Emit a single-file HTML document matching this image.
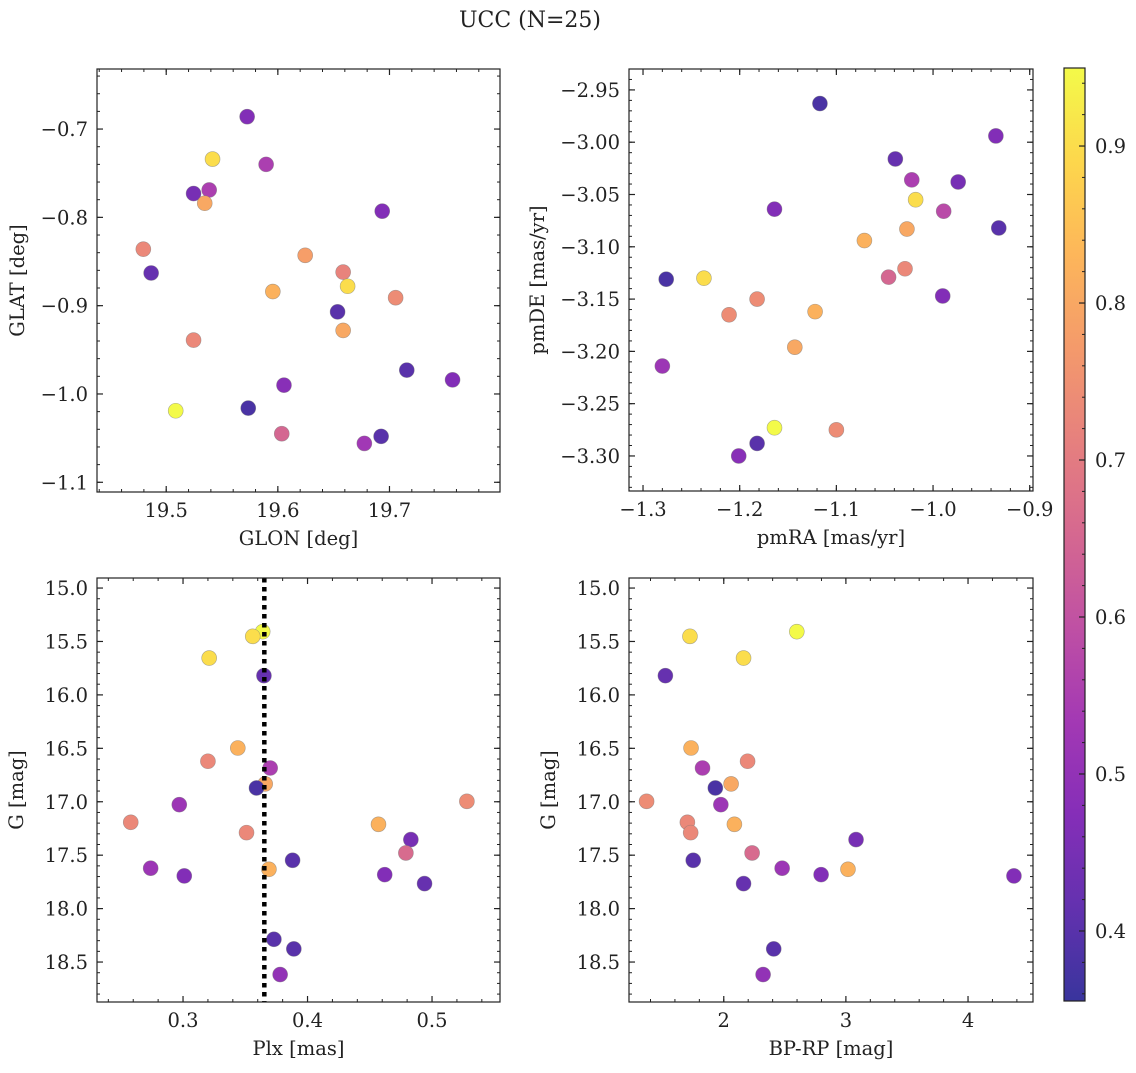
<!DOCTYPE html>
<html><head><meta charset="utf-8"><style>
html,body{margin:0;padding:0;background:#fff;}
svg text{font-family:"DejaVu Serif","Liberation Serif",serif;fill:#222;}
</style></head><body>
<svg id="fig" width="1136" height="1068" viewBox="0 0 1136 1068" xmlns="http://www.w3.org/2000/svg">
<text x="530" y="27" font-size="22" text-anchor="middle">UCC (N=25)</text>
</svg>
<script>
// ---- Panel 1: GLON vs GLAT ----
const p1X = [19.5725,19.5415,19.5895,19.5245,19.5385,19.5345,19.6935,19.4795,19.4865,19.6245,19.6585,19.6625,19.5955,19.7055,19.6535,19.6585,19.5245,19.7155,19.6055,19.7565,19.5085,19.5735,19.6035,19.6775,19.6925];
const p1Y = [-0.686,-0.734,-0.740,-0.773,-0.769,-0.784,-0.793,-0.836,-0.863,-0.843,-0.862,-0.878,-0.884,-0.891,-0.907,-0.928,-0.939,-0.973,-0.990,-0.984,-1.019,-1.016,-1.045,-1.056,-1.048];
const p1C = [0.47,0.90,0.55,0.45,0.55,0.80,0.47,0.73,0.42,0.78,0.72,0.90,0.82,0.74,0.40,0.80,0.73,0.40,0.48,0.47,0.95,0.38,0.65,0.53,0.40];
const p1XTicks = [19.5,19.6,19.7];
const p1YTicks = [-0.7,-0.8,-0.9,-1.0,-1.1];
// ---- Panel 2: pmRA vs pmDE ----
const p2X = [-1.117,-0.935,-1.039,-1.022,-0.974,-1.164,-1.018,-0.989,-0.932,-1.071,-1.027,-1.276,-1.237,-1.046,-1.029,-1.182,-0.990,-1.211,-1.122,-1.143,-1.280,-1.164,-1.100,-1.182,-1.201];
const p2Y = [-2.963,-2.994,-3.016,-3.036,-3.038,-3.064,-3.055,-3.066,-3.082,-3.094,-3.083,-3.131,-3.130,-3.129,-3.121,-3.150,-3.147,-3.165,-3.162,-3.196,-3.214,-3.273,-3.275,-3.288,-3.300];
const p2C = [0.38,0.47,0.42,0.55,0.45,0.47,0.90,0.58,0.40,0.82,0.80,0.38,0.90,0.65,0.73,0.74,0.47,0.74,0.82,0.80,0.52,0.95,0.74,0.40,0.48];
const p2XTicks = [-1.3,-1.2,-1.1,-1.0,-0.9];
const p2YTicks = [-2.95,-3.00,-3.05,-3.10,-3.15,-3.20,-3.25,-3.30];
// ---- Panel 3: Plx vs G ----
const p3X = [0.364,0.356,0.321,0.365,0.344,0.320,0.370,0.366,0.359,0.528,0.297,0.258,0.351,0.457,0.483,0.479,0.388,0.274,0.301,0.369,0.462,0.494,0.373,0.389,0.378];
const p3Y = [15.408,15.452,15.655,15.820,16.497,16.621,16.684,16.833,16.871,16.996,17.027,17.192,17.289,17.211,17.354,17.479,17.548,17.622,17.694,17.632,17.682,17.766,18.287,18.377,18.617];
const p3C = [0.95,0.90,0.90,0.42,0.82,0.73,0.55,0.80,0.38,0.74,0.52,0.73,0.73,0.82,0.45,0.66,0.40,0.52,0.47,0.82,0.47,0.42,0.40,0.40,0.50];
const p3Plx = [0.3653];
const p3XTicks = [0.3,0.4,0.5];
const gTicks = [15.0,15.5,16.0,16.5,17.0,17.5,18.0,18.5];
// ---- Panel 4: BP-RP vs G ----
const p4X = [2.598,1.723,2.162,1.522,1.732,1.826,2.195,1.931,2.060,1.368,1.976,1.702,1.729,2.087,3.083,2.232,1.750,2.478,2.797,3.017,4.376,2.162,2.409,2.322];
const p4Y = [15.408,15.452,15.655,15.820,16.497,16.684,16.621,16.871,16.833,16.996,17.027,17.192,17.289,17.211,17.354,17.479,17.548,17.622,17.682,17.632,17.694,17.766,18.377,18.617];
const p4C = [0.95,0.90,0.90,0.42,0.82,0.55,0.73,0.38,0.80,0.74,0.52,0.73,0.73,0.82,0.45,0.66,0.40,0.52,0.47,0.82,0.47,0.42,0.40,0.50];
const p4XTicks = [2,3,4];
// ---- Colorbar ----
const cbTicks = [0.4,0.5,0.6,0.7,0.8,0.9];
const cMin = 0.3554, cMax = 0.9497;

const FS = 19.5;
const NS = "http://www.w3.org/2000/svg";
const svg = document.getElementById('fig');
function mk(tag, attrs, parent){const e=document.createElementNS(NS,tag);for(const k in attrs)e.setAttribute(k,attrs[k]);(parent||svg).appendChild(e);return e;}
const stops=[[13,8,135],[65,4,157],[106,0,168],[143,13,164],[177,42,144],[204,71,120],[225,100,98],[242,132,75],[252,166,54],[252,206,37],[240,249,33]];
function plasma(t){t=Math.max(0,Math.min(1,t));const f=t*10,i=Math.min(9,Math.floor(f)),r=f-i;const a=stops[i],b=stops[i+1];
 const c=[0,1,2].map(k=>Math.round((a[k]+(b[k]-a[k])*r)*0.82+255*0.18));return `rgb(${c[0]},${c[1]},${c[2]})`;}
function cval(c){return plasma((c-cMin)/(cMax-cMin));}
function fmt(v,d){const s=Math.abs(v).toFixed(d);return (v<0?'\u2212':'')+s;}

function panel(o){
 const g=mk('g',{});
 
 
 const sx=v=>o.x0+(v-o.xmin)/(o.xmax-o.xmin)*(o.x1-o.x0);
 const sy=o.yinv? (v=>o.y0+(v-o.ymin)/(o.ymax-o.ymin)*(o.y1-o.y0)) : (v=>o.y1-(v-o.ymin)/(o.ymax-o.ymin)*(o.y1-o.y0));
 for(let v=Math.ceil(o.xmin/o.xminor)*o.xminor; v<=o.xmax; v+=o.xminor){const x=sx(v);
  mk('line',{x1:x,x2:x,y1:o.y1,y2:o.y1-3,stroke:'#222','stroke-width':1},g);mk('line',{x1:x,x2:x,y1:o.y0,y2:o.y0+3,stroke:'#222','stroke-width':1},g);}
 for(let v=Math.ceil(o.ymin/o.yminor)*o.yminor; v<=o.ymax; v+=o.yminor){const y=sy(v);
  mk('line',{x1:o.x0,x2:o.x0+3,y1:y,y2:y,stroke:'#222','stroke-width':1},g);mk('line',{x1:o.x1,x2:o.x1-3,y1:y,y2:y,stroke:'#222','stroke-width':1},g);}
 o.xt.forEach(v=>{const x=sx(v);
  mk('line',{x1:x,x2:x,y1:o.y1,y2:o.y1-6,stroke:'#222','stroke-width':1.2},g);mk('line',{x1:x,x2:x,y1:o.y0,y2:o.y0+6,stroke:'#222','stroke-width':1.2},g);
  const t=mk('text',{x:x,y:o.y1+25,'font-size':FS,'text-anchor':'middle'},g);t.textContent=fmt(v,o.xd);
  
  });
 o.yt.forEach(v=>{const y=sy(v);
  mk('line',{x1:o.x0,x2:o.x0+6,y1:y,y2:y,stroke:'#222','stroke-width':1.2},g);mk('line',{x1:o.x1,x2:o.x1-6,y1:y,y2:y,stroke:'#222','stroke-width':1.2},g);
  const t=mk('text',{x:o.x0-9,y:y+7,'font-size':FS,'text-anchor':'end'},g);t.textContent=fmt(v,o.yd);
  
  });
 o.X.forEach((xv,i)=>{const c=mk('circle',{cx:sx(xv),cy:sy(o.Y[i]),r:7.5,fill:cval(o.C[i]),stroke:'rgba(120,120,120,0.6)','stroke-width':0.6},g);
  
  });
 if(o.vline){o.vline.forEach(v=>{const l=mk('line',{x1:sx(v),x2:sx(v),y1:o.y0,y2:o.y1,stroke:'#000','stroke-width':4.5,'stroke-dasharray':'4.5 4.5'},g);
  
  });}
 mk('rect',{x:o.x0,y:o.y0,width:o.x1-o.x0,height:o.y1-o.y0,fill:'none',stroke:'#222','stroke-width':1.2},g);
 const xl=mk('text',{x:(o.x0+o.x1)/2,y:o.y1+53,'font-size':FS,'text-anchor':'middle'},g);xl.textContent=o.xlab;
 
 
 const yx=o.x0-o.yoff, yy=(o.y0+o.y1)/2;
 const yl=mk('text',{x:yx,y:yy,'font-size':FS,'text-anchor':'middle',transform:`rotate(-90 ${yx} ${yy})`},g);yl.textContent=o.ylab;
 
 
}
panel({name:'glon-glat-panel',x0:97,x1:500,y0:69,y1:492,xmin:19.438,xmax:19.799,ymin:-1.111,ymax:-0.632,xminor:0.02,yminor:0.02,xt:p1XTicks,yt:p1YTicks,xd:1,yd:1,X:p1X,Y:p1Y,C:p1C,xlab:'GLON [deg]',ylab:'GLAT [deg]',yoff:73});
panel({name:'pm-panel',x0:629,x1:1033,y0:69,y1:491,xmin:-1.3145,xmax:-0.8966,ymin:-3.3335,ymax:-2.930,xminor:0.02,yminor:0.01,xt:p2XTicks,yt:p2YTicks,xd:1,yd:2,X:p2X,Y:p2Y,C:p2C,xlab:'pmRA [mas/yr]',ylab:'pmDE [mas/yr]',yoff:85});
panel({name:'plx-g-panel',x0:97,x1:500,y0:578,y1:1002,xmin:0.2309,xmax:0.5546,ymin:14.906,ymax:18.874,yinv:true,xminor:0.02,yminor:0.1,xt:p3XTicks,yt:gTicks,xd:1,yd:1,X:p3X,Y:p3Y,C:p3C,xlab:'Plx [mas]',ylab:'G [mag]',vline:p3Plx,yoff:74});
panel({name:'cmd-panel',x0:629,x1:1033,y0:578,y1:1002,xmin:1.224,xmax:4.532,ymin:14.906,ymax:18.874,yinv:true,xminor:0.2,yminor:0.1,xt:p4XTicks,yt:gTicks,xd:0,yd:1,X:p4X,Y:p4Y,C:p4C,xlab:'BP-RP [mag]',ylab:'G [mag]',yoff:74});

const cb=mk('g',{});


const cx0=1064,cx1=1085,cy0=68,cy1=1001;
const defs=mk('defs',{},cb);const lg=mk('linearGradient',{id:'cbg',x1:0,y1:1,x2:0,y2:0},defs);
for(let k=0;k<=20;k++){mk('stop',{offset:k/20,'stop-color':plasma(k/20)},lg);}
mk('rect',{x:cx0,y:cy0,width:cx1-cx0,height:cy1-cy0,fill:'url(#cbg)',stroke:'#222','stroke-width':1.2},cb);
const cy=v=>cy1-(v-cMin)/(cMax-cMin)*(cy1-cy0);
for(let v=0.36;v<0.95;v+=0.02){const y=cy(v);mk('line',{x1:cx1,x2:cx1-3,y1:y,y2:y,stroke:'#222','stroke-width':1},cb);}
cbTicks.forEach(v=>{const y=cy(v);mk('line',{x1:cx1,x2:cx1-6,y1:y,y2:y,stroke:'#222','stroke-width':1.2},cb);
 const t=mk('text',{x:cx1+10,y:y+7,'font-size':FS},cb);t.textContent=v.toFixed(1);
 
 });
</script>
</body></html>
